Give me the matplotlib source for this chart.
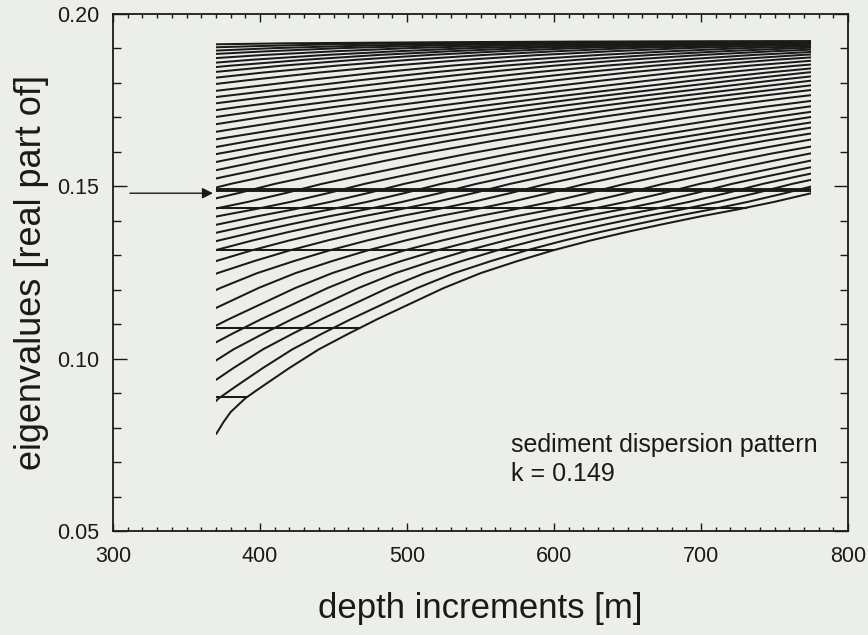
import numpy as np
import matplotlib
matplotlib.use("Agg")
import matplotlib.pyplot as plt
from matplotlib.patches import Rectangle
from matplotlib.ticker import MultipleLocator, FixedLocator

plt.rcParams['font.family'] = ['Liberation Sans', 'DejaVu Sans']

# -----------------------
# data
# -----------------------

# master eigenvalue curve (lowest mode), depth [m] -> eigenvalue
master_depth = [370, 375, 380, 390, 400, 420, 440, 460, 480, 500, 525, 550,
                575, 600, 625, 650, 675, 700, 725, 750, 775, 800, 825, 850,
                875, 900, 950, 1000, 1050, 1100, 1150, 1200, 1250, 1300, 1350,
                1400, 1450, 1500, 1550, 1600, 1650, 1700, 1800, 1900, 2200]
master_eig = [0.0780, 0.0815, 0.0845, 0.0885, 0.0915, 0.0973, 0.1027, 0.1072,
              0.1115, 0.1155, 0.1205, 0.1248, 0.1283, 0.1315, 0.1343, 0.1368,
              0.1391, 0.1413, 0.1433, 0.1455, 0.1480, 0.1507, 0.1530, 0.1552,
              0.1574, 0.1595, 0.1633, 0.1667, 0.1700, 0.1730, 0.1757, 0.1782,
              0.1807, 0.1830, 0.1850, 0.1867, 0.1881, 0.1892, 0.1901, 0.1907,
              0.1912, 0.1915, 0.1918, 0.1920, 0.1921]

# depth offset of each higher mode along the master curve
mode_shift = [0, 18, 38, 58, 79, 101, 126, 152, 179, 205, 230, 253, 277, 302,
              329, 358, 390, 420, 447, 474, 501, 528, 555, 585, 617, 650, 682,
              715, 750, 784, 820, 860, 898, 935, 970, 1006, 1048, 1094, 1140,
              1200, 1280]

# sediment modes (flat levels) and where they stop
sed_level = [0.1490, 0.1437, 0.1315, 0.1090, 0.0890]
sed_end = [775, 731, 600, 468, 391]

depth_start = 370
depth_stop = 775
k_marker = 0.148

xticks = [300, 400, 500, 600, 700, 800]
yticks = [0.05, 0.10, 0.15, 0.20]
ytick_labels = ["0.05", "0.10", "0.15", "0.20"]

# -----------------------
# figure
# -----------------------

bg = "#eceeea"
ink = "#1a1a1a"

fig = plt.figure(figsize=(8.68, 6.35), dpi=100, facecolor=bg)
ax = fig.add_axes([0.1302, 0.1638, 0.8468, 0.8142], facecolor=bg)

clip = Rectangle((depth_start, 0.0), depth_stop - depth_start, 1.0,
                 transform=ax.transData, facecolor="none", edgecolor="none")
ax.add_patch(clip)

mx = np.array(master_depth, dtype=float)
my = np.array(master_eig)
for s in mode_shift:
    ln, = ax.plot(mx - s, my, color=ink, lw=1.45, solid_capstyle="butt")
    ln.set_clip_path(clip)

for lev, end in zip(sed_level, sed_end):
    lw = 2.8 if lev == sed_level[0] else 1.45
    ax.plot([depth_start, end], [lev, lev], color=ink, lw=lw,
            solid_capstyle="butt")

ax.annotate("", xy=(depth_start - 2, k_marker), xytext=(311.5, k_marker),
            arrowprops=dict(arrowstyle="-|>", color=ink, lw=1.0,
                            mutation_scale=16, shrinkA=0, shrinkB=0))

ax.text(571, 0.0729, "sediment dispersion pattern", fontsize=18,
        color=ink, va="baseline")
ax.text(571, 0.0645, "k = 0.149", fontsize=18, color=ink, va="baseline")

ax.set_xlim(300, 800)
ax.set_ylim(0.05, 0.20)
ax.xaxis.set_major_locator(FixedLocator(xticks))
ax.xaxis.set_minor_locator(MultipleLocator(10))
ax.yaxis.set_major_locator(FixedLocator(yticks))
ax.yaxis.set_minor_locator(MultipleLocator(0.01))
ax.set_yticklabels(ytick_labels)

ax.tick_params(which="both", direction="in", top=True, right=True,
               color=ink, width=1.0, labelsize=15.5, labelcolor=ink)
ax.tick_params(axis="x", which="major", length=6, pad=11)
ax.tick_params(axis="x", which="minor", length=3)
ax.tick_params(axis="y", which="major", length=10, pad=10)
ax.tick_params(axis="y", which="minor", length=6)

for sp in ax.spines.values():
    sp.set_linewidth(1.3)
    sp.set_color(ink)

ax.set_xlabel("depth increments [m]", fontsize=25, color=ink, labelpad=18)
ax.set_ylabel("eigenvalues [real part of]", fontsize=26, color=ink,
              labelpad=6)

fig.savefig("out.png", dpi=100, facecolor=bg)
